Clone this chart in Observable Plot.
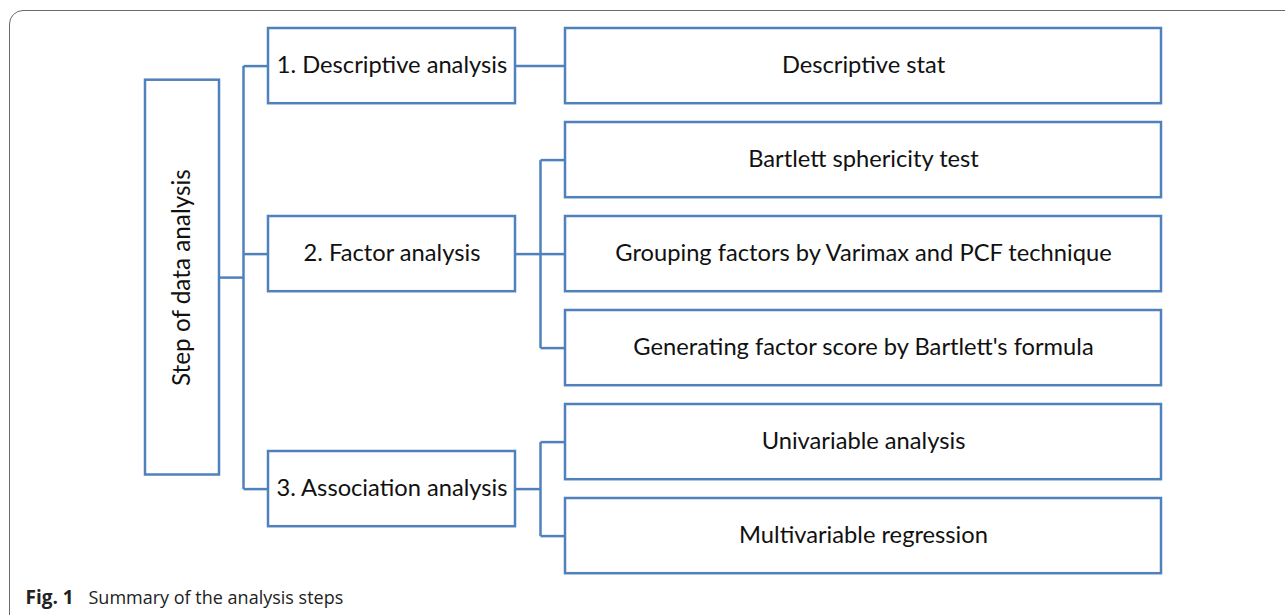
<!DOCTYPE html>
<html>
<head>
<meta charset="utf-8">
<script src="https://cdn.jsdelivr.net/npm/d3@7"></script>
<script src="https://cdn.jsdelivr.net/npm/@observablehq/plot@0.6"></script>
<style>
  html, body { margin: 0; padding: 0; background: #fff; overflow: hidden; }
  #wrap { position: relative; width: 1285px; height: 615px; overflow: hidden; }
  #border { position: absolute; left: 9px; top: 10px; width: 1320px; height: 640px;
            border: 1.5px solid #6a6a6a; border-radius: 14px; pointer-events: none; box-sizing: border-box; }
</style>
</head>
<body>
<div id="wrap"><div id="border"></div></div>
<script>
// ---- data ----
const rootLabel = "Step of data analysis";
const level1 = ["1. Descriptive analysis", "2. Factor analysis", "3. Association analysis"];
const level2 = [
  ["Descriptive stat"],
  ["Bartlett sphericity test", "Grouping factors by Varimax and PCF technique", "Generating factor score by Bartlett's formula"],
  ["Univariable analysis", "Multivariable regression"]
];
const captionBold = "Fig. 1";
const captionText = "Summary of the analysis steps";

// ---- layout (rows are y-scale units; columns in x-scale units) ----
const H = 0.8;            // box height in rows
const col0 = [145, 219], trunkX = 243, col1 = [268, 515], branchX = 540, col2 = [565, 1161];
const rootHalf = 2.1;

const boxes = [], labels = [], segs = [];
let row = 0;
const parentCenters = [];
level2.forEach((children, gi) => {
  const centers = [];
  children.forEach(lab => {
    boxes.push({x1: col2[0], x2: col2[1], y1: row, y2: row + H});
    labels.push({x: (col2[0] + col2[1]) / 2, y: row + H / 2, text: lab});
    centers.push(row + H / 2);
    row += 1;
  });
  const pc = d3.mean(centers);
  parentCenters.push(pc);
  boxes.push({x1: col1[0], x2: col1[1], y1: pc - H / 2, y2: pc + H / 2});
  labels.push({x: (col1[0] + col1[1]) / 2, y: pc, text: level1[gi]});
  if (children.length === 1) {
    segs.push({x1: col1[1], x2: col2[0], y1: pc, y2: pc});
  } else {
    segs.push({x1: col1[1], x2: branchX, y1: pc, y2: pc});
    segs.push({x1: branchX, x2: branchX, y1: centers[0], y2: centers[centers.length - 1]});
    centers.forEach(c => segs.push({x1: branchX, x2: col2[0], y1: c, y2: c}));
  }
});
const rc = (parentCenters[0] + parentCenters[parentCenters.length - 1]) / 2;
boxes.push({x1: col0[0], x2: col0[1], y1: rc - rootHalf, y2: rc + rootHalf});
segs.push({x1: col0[1], x2: trunkX, y1: rc, y2: rc});
segs.push({x1: trunkX, x2: trunkX, y1: parentCenters[0], y2: parentCenters[parentCenters.length - 1]});
parentCenters.forEach(c => segs.push({x1: trunkX, x2: col1[0], y1: c, y2: c}));

const blue = "#4f81bd";
const font = "Lato, 'Noto Sans', sans-serif";

const chart = Plot.plot({
  width: 1285,
  height: 615,
  margin: 0,
  style: {background: "transparent", overflow: "hidden"},
  x: {domain: [0, 1285], range: [0, 1285], axis: null},
  y: {domain: [0, 6], range: [28, 592], axis: null},
  marks: [
    Plot.link(segs, {x1: "x1", y1: "y1", x2: "x2", y2: "y2", stroke: blue, strokeWidth: 2.5}),
    Plot.rect(boxes, {x1: "x1", x2: "x2", y1: "y1", y2: "y2", fill: "white", stroke: blue, strokeWidth: 2.5}),
    Plot.text(labels, {x: "x", y: "y", text: "text", fontSize: 23.7, fontFamily: font, fill: "#111", dy: -1}),
    Plot.text([rootLabel], {x: (col0[0] + col0[1]) / 2, y: rc, text: d => d, rotate: -90,
      fontSize: 24.3, fontFamily: font, fill: "#111"}),
    Plot.text([captionBold], {x: 25, y: 6.06, text: d => d, textAnchor: "start", fontWeight: "bold",
      fontSize: 19, fontFamily: "'Open Sans', sans-serif", fill: "#222"}),
    Plot.text([captionText], {x: 88, y: 6.06, text: d => d, textAnchor: "start",
      fontSize: 18, fontFamily: "'Open Sans', sans-serif", fill: "#222"})
  ]
});
document.getElementById("wrap").appendChild(chart);
</script>
</body>
</html>
